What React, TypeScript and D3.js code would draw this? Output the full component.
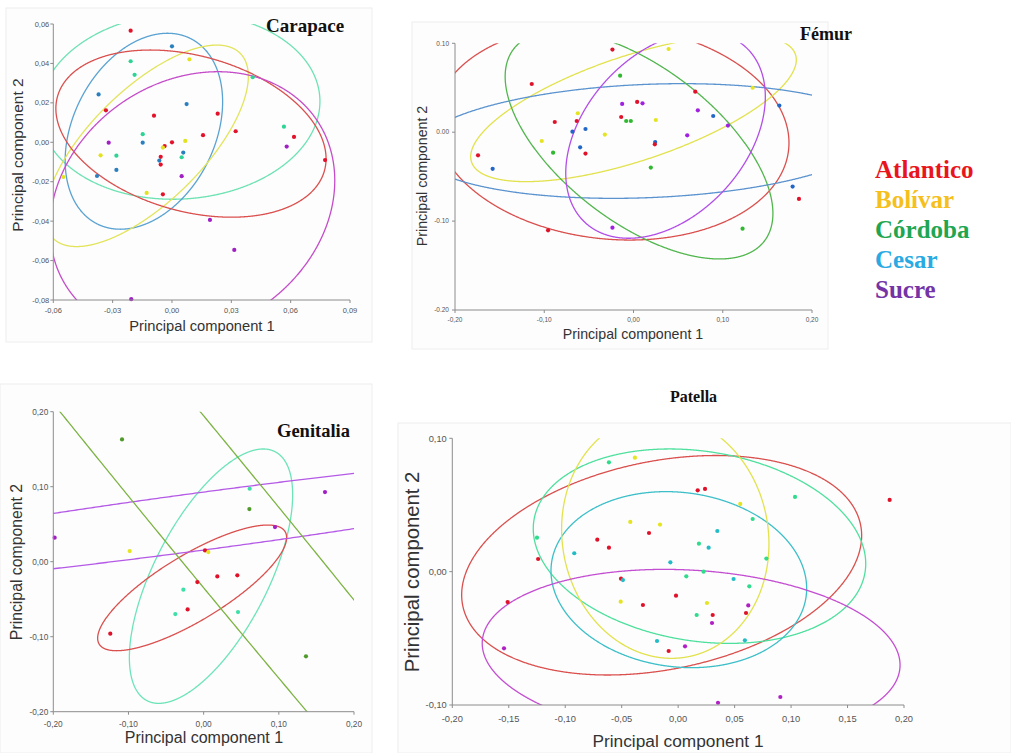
import * as d3 from 'd3'

type Pt = [number, number, string]
// centre pc1, centre pc2, half-width, half-height, tilt (correlation), group
type Ell = [number, number, number, number, number, string]

const groupNames = ['Atlantico', 'Bolívar', 'Córdoba', 'Cesar', 'Sucre']
const legendColors = ['#e8161c', '#f5c01c', '#1fa653', '#2aaae2', '#7434a6']

// ---------- Carapace ----------
const carapaceXTicks = [-0.06, -0.03, 0, 0.03, 0.06, 0.09]
const carapaceYTicks = [0.06, 0.04, 0.02, 0, -0.02, -0.04, -0.06, -0.08]
const carapacePoints: Pt[] = [
  [-0.0209, 0.0566, 'A'], [0, 0.0487, 'E'], [0.0088, 0.0421, 'B'], [-0.0209, 0.0411, 'C'],
  [-0.0189, 0.0342, 'C'], [-0.0371, 0.0243, 'E'], [-0.0334, 0.0162, 'A'], [0.0074, 0.0194, 'E'],
  [-0.0091, 0.0135, 'A'], [0.0231, 0.0145, 'A'], [0.0408, 0.033, 'C'], [0.0157, 0.0036, 'A'],
  [0.0322, 0.0056, 'A'], [0.0566, 0.0079, 'C'], [0.0617, 0.0027, 'A'], [0.058, -0.0022, 'S'],
  [0.0774, -0.009, 'A'], [-0.0148, 0.0041, 'C'], [-0.0148, -0.0002, 'E'], [-0.032, -0.0002, 'S'],
  [0, 0, 'A'], [-0.0037, -0.0019, 'A'], [-0.0046, -0.0027, 'B'], [0.0067, 0.0007, 'B'],
  [0.0057, -0.0052, 'E'], [0.0049, -0.0076, 'C'], [-0.0057, -0.0074, 'A'], [-0.0064, -0.0093, 'E'],
  [-0.0057, -0.0113, 'A'], [-0.0281, -0.0068, 'C'], [-0.0361, -0.0066, 'B'], [-0.0281, -0.014, 'E'],
  [-0.0379, -0.0171, 'E'], [-0.0549, -0.0176, 'B'], [0.0049, -0.0172, 'S'], [-0.0128, -0.0257, 'B'],
  [-0.0046, -0.0264, 'A'], [0.0192, -0.0394, 'S'], [0.0315, -0.0546, 'S'], [-0.0206, -0.0796, 'S']
]
const carapaceEllipses: Ell[] = [
  [0.004, 0.0184, 0.0708, 0.0473, 0.05, 'C'],
  [-0.0142, 0.0056, 0.0398, 0.0497, 0.3, 'E'],
  [-0.0128, -0.0018, 0.0514, 0.0511, 0.69, 'B'],
  [0.0096, 0.0044, 0.0683, 0.0424, -0.3, 'A'],
  [0.0103, -0.0315, 0.072, 0.0673, 0.18, 'S']
]

// ---------- Fémur ----------
const femurXTicks = [-0.2, -0.1, 0, 0.1, 0.2]
const femurYTicks = [0.1, 0, -0.1, -0.2]
const femurPoints: Pt[] = [
  [-0.0236, 0.0929, 'A'], [0.0393, 0.0936, 'B'], [-0.015, 0.0636, 'C'], [-0.114, 0.0542, 'A'],
  [0.0692, 0.0456, 'A'], [0.1335, 0.05, 'B'], [0.1634, 0.0299, 'E'], [-0.0127, 0.0318, 'S'],
  [0.0041, 0.034, 'A'], [0.0101, 0.0325, 'S'], [0.0721, 0.0246, 'S'], [-0.0624, 0.0213, 'B'],
  [0.0893, 0.0182, 'E'], [-0.0138, 0.0171, 'A'], [-0.0082, 0.0126, 'C'], [-0.003, 0.0126, 'C'],
  [0.025, 0.0137, 'B'], [-0.0636, 0.0126, 'A'], [-0.0882, 0.0115, 'A'], [-0.0538, 0.0036, 'E'],
  [-0.0684, 0.0006, 'E'], [0.1058, 0.0074, 'S'], [-0.0321, -0.0027, 'B'], [0.0602, -0.0035, 'S'],
  [-0.1028, -0.0099, 'B'], [0.0243, -0.011, 'E'], [0.0239, -0.0136, 'A'], [-0.0598, -0.017, 'E'],
  [-0.1742, -0.026, 'A'], [-0.0901, -0.023, 'C'], [-0.0538, -0.0241, 'A'], [-0.1578, -0.0412, 'E'],
  [0.0194, -0.0398, 'C'], [0.1783, -0.0612, 'E'], [0.1854, -0.0751, 'A'], [-0.0957, -0.1104, 'A'],
  [-0.0236, -0.1074, 'S'], [0.1222, -0.1085, 'C']
]
const femurEllipses: Ell[] = [
  [-0.0241, 0.0002, 0.1983, 0.1215, -0.1, 'A'],
  [0, 0.0269, 0.1824, 0.0825, 0.66, 'B'],
  [0.0161, -0.0099, 0.2576, 0.0645, 0.15, 'E'],
  [0.0062, -0.0144, 0.15, 0.1282, -0.6, 'C'],
  [0.0359, -0.0031, 0.1118, 0.1162, 0.37, 'S']
]

// ---------- Genitalia ----------
const genitaliaXTicks = [-0.2, -0.1, 0, 0.1, 0.2]
const genitaliaYTicks = [0.2, 0.1, 0, -0.1, -0.2]
const genitaliaPoints: Pt[] = [
  [-0.1086, 0.1631, 'C'], [0.0612, 0.0973, 'E'], [0.1614, 0.0929, 'S'], [0.0608, 0.0702, 'C'],
  [0.0949, 0.0462, 'S'], [-0.1982, 0.032, 'S'], [-0.0984, 0.0142, 'B'], [0.0018, 0.0151, 'A'],
  [0.0062, 0.0129, 'B'], [-0.0084, -0.0271, 'A'], [0.0182, -0.0196, 'A'], [0.0448, -0.0182, 'A'],
  [-0.027, -0.0373, 'E'], [-0.0213, -0.0636, 'A'], [-0.0377, -0.0698, 'E'], [0.0457, -0.0671, 'E'],
  [-0.1242, -0.096, 'A'], [0.1361, -0.1262, 'C']
]
const genitaliaEllipses: Ell[] = [
  [0.0098, -0.0193, 0.1086, 0.1696, 0.64, 'E'],
  [-0.0153, -0.0349, 0.1257, 0.0838, 0.8, 'A'],
  [0, 0.0542, 0.665, 0.0969, 0.917, 'S'],
  [0.0035, 0.0756, 0.845, 1.031, -0.9938, 'C']
]

// ---------- Patella ----------
const patellaXTicks = [-0.2, -0.15, -0.1, -0.05, 0, 0.05, 0.1, 0.15, 0.2]
const patellaYTicks = [0.1, 0, -0.1]
const patellaPoints: Pt[] = [
  [-0.0613, 0.082, 'C'], [-0.0383, 0.0855, 'B'], [0.0173, 0.061, 'A'], [0.0238, 0.062, 'A'],
  [0.055, 0.0508, 'B'], [0.1035, 0.056, 'C'], [0.1873, 0.0538, 'A'], [-0.0424, 0.0373, 'B'],
  [-0.0161, 0.0353, 'B'], [0.066, 0.0395, 'C'], [-0.0258, 0.029, 'A'], [0.0347, 0.0305, 'E'],
  [-0.125, 0.0255, 'C'], [-0.0716, 0.024, 'A'], [-0.0613, 0.018, 'A'], [0.0184, 0.021, 'C'],
  [0.027, 0.018, 'E'], [-0.092, 0.0138, 'E'], [-0.124, 0.0095, 'A'], [0.0781, 0.0098, 'C'],
  [-0.0069, 0.007, 'E'], [0.0225, 0, 'C'], [0.0072, -0.0035, 'C'], [-0.0506, -0.0053, 'A'],
  [-0.0489, -0.0063, 'E'], [0.0491, -0.0055, 'E'], [0.063, -0.011, 'C'], [-0.0019, -0.018, 'A'],
  [-0.151, -0.0228, 'A'], [-0.0509, -0.0225, 'B'], [-0.0312, -0.025, 'A'], [0.0255, -0.0235, 'B'],
  [0.0621, -0.0253, 'S'], [0.0164, -0.0325, 'C'], [0.0306, -0.0325, 'A'], [0.0601, -0.031, 'A'],
  [0.03, -0.0385, 'S'], [-0.0187, -0.052, 'E'], [0.0591, -0.0515, 'E'], [-0.1542, -0.0575, 'S'],
  [0.0061, -0.056, 'S'], [-0.0084, -0.0595, 'A'], [0.0353, -0.0983, 'S'], [0.0905, -0.094, 'S']
]
const patellaEllipses: Ell[] = [
  [-0.0146, 0.0048, 0.1771, 0.0823, 0.27, 'A'],
  [0.0189, 0.0191, 0.1472, 0.0729, -0.18, 'C'],
  [0.0006, -0.006, 0.1132, 0.066, -0.1, 'E'],
  [-0.0114, 0.0263, 0.0918, 0.0913, -0.06, 'B'],
  [0.0115, -0.0619, 0.185, 0.0636, -0.128, 'S']
]

interface PanelConf {
  id: string
  title: string
  titleX: number
  titleY: number
  titleSize: number
  box: [number, number, number, number]
  left: number
  right: number
  top: number
  bottom: number
  xDomain: [number, number]
  yDomain: [number, number]
  xTicks: number[]
  yTicks: number[]
  yDot?: boolean
  tickSize: number
  xTickDy: number
  yTickGap: number
  xTitle: [number, number, number]
  yTitle: [number, number, number]
  points: Pt[]
  ellipses: Ell[]
  dot: Record<string, string>
  ring: Record<string, string>
}

const panels: PanelConf[] = [
  {
    id: 'car', title: 'Carapace', titleX: 266, titleY: 32, titleSize: 19,
    box: [6, 8, 366, 334],
    left: 53.3, right: 350, top: 24, bottom: 300,
    xDomain: [-0.06, 0.09], yDomain: [-0.08, 0.06],
    xTicks: carapaceXTicks, yTicks: carapaceYTicks,
    tickSize: 7.5, xTickDy: 13, yTickGap: 4,
    xTitle: [202, 331, 14.7], yTitle: [17, 155, 15.5],
    points: carapacePoints, ellipses: carapaceEllipses,
    dot: { A: '#e3122a', B: '#e2e21e', C: '#2ed494', E: '#2a7fbf', S: '#a020c4' },
    ring: { A: '#d9504e', B: '#e2e45c', C: '#6ee2b4', E: '#5aa2d2', S: '#c54cc9' }
  },
  {
    id: 'fem', title: 'Fémur', titleX: 800, titleY: 40, titleSize: 18,
    box: [412, 22, 416, 327],
    left: 455, right: 812, top: 43.3, bottom: 310,
    xDomain: [-0.2, 0.2], yDomain: [-0.2, 0.1],
    xTicks: femurXTicks, yTicks: femurYTicks, yDot: true,
    tickSize: 6.5, xTickDy: 11.5, yTickGap: 6,
    xTitle: [633, 339, 14.2], yTitle: [422, 176, 14.2],
    points: femurPoints, ellipses: femurEllipses,
    dot: { A: '#e0122a', B: '#e4e420', C: '#30b830', E: '#2266c8', S: '#a021e0' },
    ring: { A: '#d9504e', B: '#e2e24e', C: '#52b64e', E: '#5b93cf', S: '#b24ee8' }
  },
  {
    id: 'gen', title: 'Genitalia', titleX: 277, titleY: 437, titleSize: 18.5,
    box: [0, 384, 372, 369],
    left: 53.3, right: 354, top: 411.7, bottom: 711.7,
    xDomain: [-0.2, 0.2], yDomain: [-0.2, 0.2],
    xTicks: genitaliaXTicks, yTicks: genitaliaYTicks,
    tickSize: 8.3, xTickDy: 15, yTickGap: 5,
    xTitle: [204, 743, 16], yTitle: [16, 562, 15.8],
    points: genitaliaPoints, ellipses: genitaliaEllipses,
    dot: { A: '#e0122a', B: '#e4e420', C: '#4f9a2a', E: '#3ee0a8', S: '#a020c4' },
    ring: { A: '#d9504e', B: '#e2e24e', C: '#7cb342', E: '#6de4b8', S: '#b45ae6' }
  },
  {
    id: 'pat', title: 'Patella', titleX: 670, titleY: 402, titleSize: 16,
    box: [398, 423, 613, 330],
    left: 452.3, right: 904, top: 438.3, bottom: 705,
    xDomain: [-0.2, 0.2], yDomain: [-0.1, 0.1],
    xTicks: patellaXTicks, yTicks: patellaYTicks,
    tickSize: 9.3, xTickDy: 16.5, yTickGap: 5.5,
    xTitle: [678, 747, 17.3], yTitle: [412, 572, 20.3],
    points: patellaPoints, ellipses: patellaEllipses,
    dot: { A: '#e0122a', B: '#e4e420', C: '#2fdc8c', E: '#22bcc6', S: '#b020c4' },
    ring: { A: '#d9504e', B: '#e2e24e', C: '#4fe09e', E: '#3cbfc8', S: '#c44ed2' }
  }
]

const sans = '"Liberation Sans", Arial, sans-serif'
const serif = '"Liberation Serif", "Times New Roman", serif'

function ellipsePoints(e: Ell): [number, number][] {
  const [cx, cy, w, h, k] = e
  const s = Math.sqrt(1 - k * k)
  return d3.range(0, 1440).map(i => {
    const t = (i / 1440) * Math.PI * 2
    return [cx + w * Math.cos(t), cy + h * (k * Math.cos(t) + s * Math.sin(t))] as [number, number]
  })
}

function Panel({ p }: { p: PanelConf }) {
  const x = d3.scaleLinear().domain(p.xDomain).range([p.left, p.right])
  const y = d3.scaleLinear().domain(p.yDomain).range([p.bottom, p.top])
  const line = d3.line<[number, number]>()
    .x(d => x(d[0]))
    .y(d => y(d[1]))
    .curve(d3.curveLinearClosed)
  const fmtComma = (v: number) => d3.format('.2f')(v).replace('.', ',').replace('−', '-')
  const fmtDot = (v: number) => d3.format('.2f')(v).replace('−', '-')
  const yFmt = p.yDot ? fmtDot : fmtComma
  const axis = '#8c8c8c'

  return (
    <g>
      <rect x={p.box[0]} y={p.box[1]} width={p.box[2]} height={p.box[3]} fill="#fdfdfd" stroke="#eeeeee" />
      <clipPath id={`clip-${p.id}`}>
        <rect x={p.left} y={p.top} width={p.right - p.left} height={p.bottom - p.top} />
      </clipPath>
      <g clipPath={`url(#clip-${p.id})`}>
        {p.ellipses.map((e, i) => (
          <path key={i} d={line(ellipsePoints(e)) || ''} fill="none" stroke={p.ring[e[5]]} strokeWidth={1.3} />
        ))}
      </g>
      {p.points.map((d, i) => (
        <circle key={i} cx={x(d[0])} cy={y(d[1])} r={2.1} fill={p.dot[d[2]]} />
      ))}
      {/* axes */}
      <line x1={p.left} x2={p.left} y1={p.top} y2={p.bottom} stroke={axis} strokeWidth={1} />
      <line x1={p.left} x2={p.right} y1={p.bottom} y2={p.bottom} stroke={axis} strokeWidth={1} />
      {p.yTicks.map(t => (
        <g key={'y' + t}>
          <line x1={p.left - 3} x2={p.left} y1={y(t)} y2={y(t)} stroke={axis} />
          <text x={p.left - p.yTickGap} y={y(t)} dy="0.35em" textAnchor="end" fontFamily={sans}
            fontSize={p.tickSize} fill="#555">{yFmt(t)}</text>
        </g>
      ))}
      {p.xTicks.map(t => (
        <g key={'x' + t}>
          <line x1={x(t)} x2={x(t)} y1={p.bottom} y2={p.bottom + 3} stroke={axis} />
          <text x={x(t)} y={p.bottom + p.xTickDy} textAnchor="middle" fontFamily={sans}
            fontSize={p.tickSize} fill="#555">{fmtComma(t)}</text>
        </g>
      ))}
      <text x={p.xTitle[0]} y={p.xTitle[1]} textAnchor="middle" fontFamily={sans}
        fontSize={p.xTitle[2]} fill="#333">Principal component 1</text>
      <text transform={`translate(${p.yTitle[0]},${p.yTitle[1]}) rotate(-90)`} textAnchor="middle"
        dominantBaseline="central" fontFamily={sans} fontSize={p.yTitle[2]} fill="#333">Principal component 2</text>
      <text x={p.titleX} y={p.titleY} fontFamily={serif} fontWeight="bold" fontSize={p.titleSize} fill="#111">{p.title}</text>
    </g>
  )
}

const legendY = d3.scalePoint<string>().domain(groupNames).range([178, 298])

export default function App() {
  return (
    <svg width={1011} height={753} style={{ position: 'absolute', left: 0, top: 0, background: '#fff' }}>
      <rect width={1011} height={753} fill="#fff" />
      {panels.map(p => <Panel key={p.id} p={p} />)}
      {groupNames.map((g, i) => (
        <text key={g} x={875} y={legendY(g)} fontFamily={serif} fontWeight="bold" fontSize={25}
          fill={legendColors[i]}>{g}</text>
      ))}
    </svg>
  )
}
